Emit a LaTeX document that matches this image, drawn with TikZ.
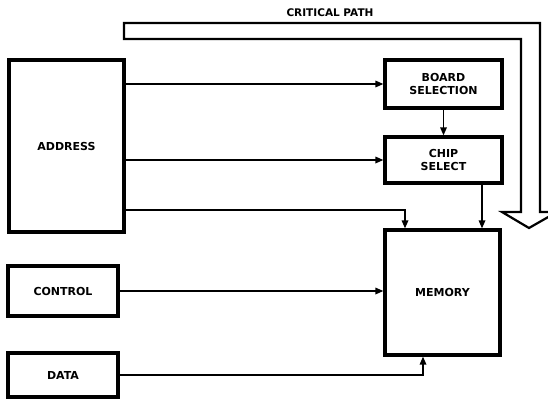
\documentclass[tikz,border=0pt]{standalone}
\usepackage{fontspec}
\setmainfont{DejaVu Sans}
\usetikzlibrary{arrows.meta}
\tikzset{
  box/.style={draw, line width=3.2pt, inner sep=0pt, align=center,
    font=\bfseries\fontsize{11}{13}\selectfont},
  conn/.style={line width=1.6pt, -{Triangle[length=8pt,width=6.5pt]}},
  critpath/.style={draw, line width=2.2pt, line join=miter},
  lbl/.style={font=\bfseries\fontsize{10.5}{12}\selectfont, inner sep=0pt}
}
\begin{document}
\begin{tikzpicture}[x=1pt, y=-1pt]
\useasboundingbox (0,0) rectangle (548,399);
\clip (0,0) rectangle (548,399);
% blocks
\node[box, minimum width=115pt, minimum height=172pt] (addr) at (66.5,146) {ADDRESS};
\node[box, minimum width=117pt, minimum height=48pt] (board) at (443.5,84) {BOARD\\SELECTION};
\node[box, minimum width=117pt, minimum height=46pt] (chip) at (443.5,160) {CHIP\\SELECT};
\node[box, minimum width=115pt, minimum height=125pt] (mem) at (442.5,292.5) {MEMORY};
\node[box, minimum width=110pt, minimum height=50pt] (ctrl) at (63,291) {CONTROL};
\node[box, minimum width=110pt, minimum height=44pt] (data) at (63,375) {DATA};
% connectors
\draw[conn] (addr.east |- board.west) -- (board.west);
\draw[conn] (addr.east |- chip.west) -- (chip.west);
\draw[conn] ([yshift=-64pt]addr.east) -| ([xshift=-37.5pt]mem.north);
\draw[conn] (board.south) -- (chip.north);
\draw[conn] ([xshift=38.5pt]chip.south) -- ([xshift=38.5pt]chip.south |- mem.north);
\draw[conn] (ctrl.east) -- (ctrl.east -| mem.west);
\draw[conn] (data.east) -| ([xshift=-19.5pt]mem.south);
% critical path arrow
\draw[critpath] (124,23) -- (540,23) -- (540,212) -- (557,212) -- (529,228)
  -- (502,212) -- (521,212) -- (521,39) -- (124,39) -- cycle;
\node[lbl] (cp) at (330,13) {CRITICAL PATH};
\end{tikzpicture}
\end{document}
